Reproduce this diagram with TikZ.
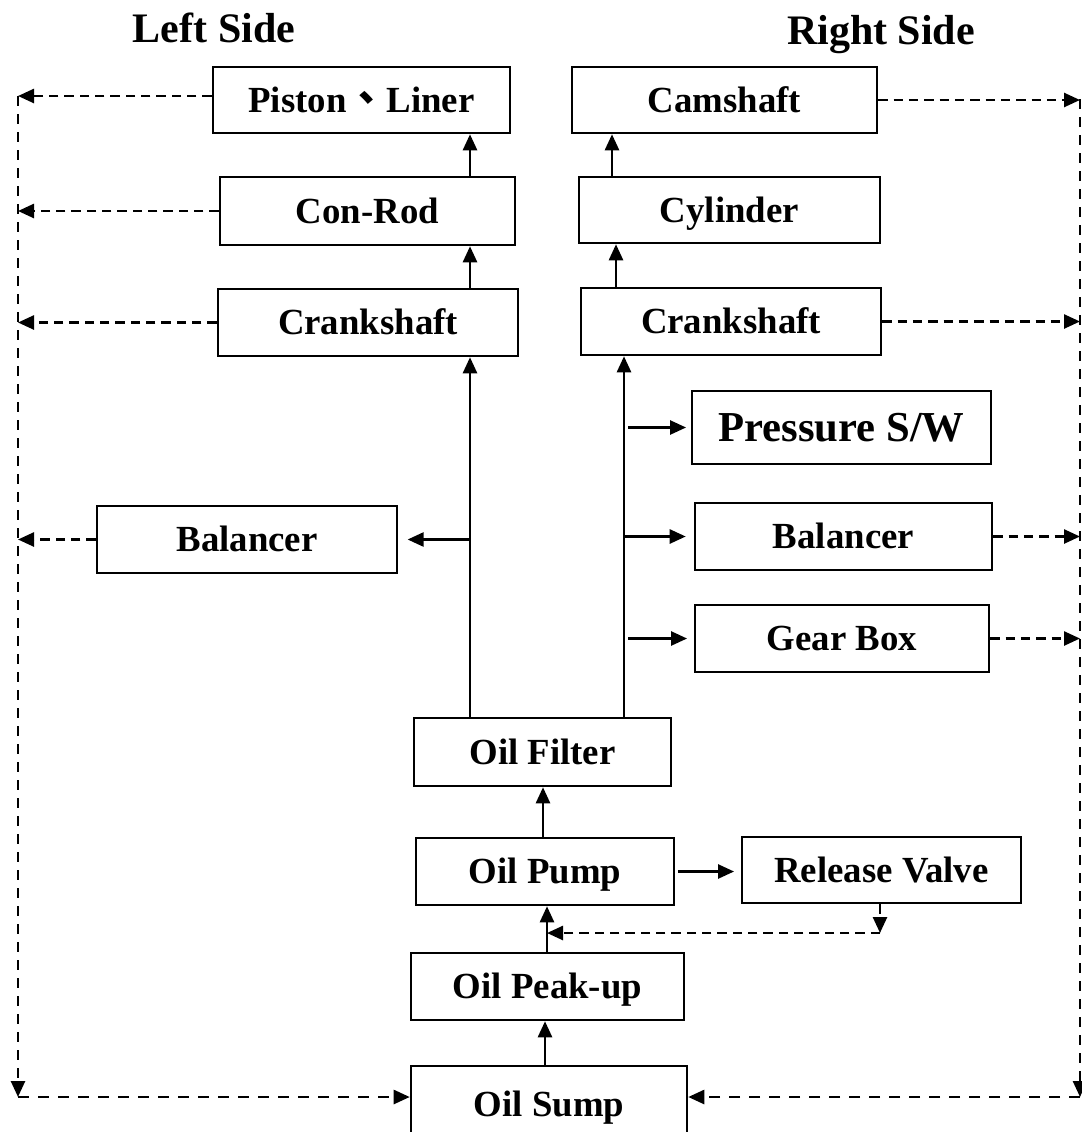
\documentclass[tikz,border=0pt]{standalone}
\usepackage{fontspec}
\setmainfont{Liberation Serif}
\newfontfamily\cjk{Noto Sans CJK TC}
\usetikzlibrary{arrows.meta}
\begin{document}
\begin{tikzpicture}[x=0.75pt,y=-0.75pt,
  box/.style={draw, line width=1.9pt, fill=white, inner sep=0pt,
    font=\bfseries\fontsize{27.6pt}{30pt}\selectfont,
    text height=18.3pt, text depth=0pt},
  bx/.style 2 args={minimum width={#1*0.75pt}, minimum height={#2*0.75pt}},
  ttl/.style={inner sep=0pt, font=\bfseries\fontsize{31.5pt}{34pt}\selectfont,
    text height=20.9pt, text depth=0pt},
  tipa/.style={-{Triangle[length=12pt,width=10.5pt]}},
  arr/.style={line width=1.9pt, tipa},
  darr/.style={line width=1.9pt, dash pattern=on 7pt off 4.5pt, tipa},
  dvert/.style={line width=1.9pt, dash pattern=on 7.5pt off 6pt, tipa},
  dbot/.style={line width=1.9pt, dash pattern=on 8pt off 7pt, tipa},
]
\useasboundingbox (0,0) rectangle (1082,1132);
\clip (0,0) rectangle (1082,1132);

% titles
\node[ttl] (lt) at (214,28.5) {Left Side};
\node[ttl] (rt) at (881,30.5) {Right Side};

% boxes
\node[box, bx={297}{66}] (pist) at (361.5,100) {Piston{\cjk\fontsize{30pt}{30pt}\selectfont 、}Liner};
\node[box, bx={295}{68}] (conrod) at (367.5,211) {Con-Rod};
\node[box, bx={300}{67}] (crankL) at (368,322.5) {Crankshaft};
\node[box, bx={305}{66}] (cam) at (724.5,100) {Camshaft};
\node[box, bx={301}{66}] (cyl) at (729.5,210) {Cylinder};
\node[box, bx={300}{67}] (crankR) at (731,321.5) {Crankshaft};
\node[box, bx={299}{73}, font=\bfseries\fontsize{32pt}{34pt}\selectfont, text height=21.2pt] (press) at (841.5,427.5) {Pressure S/W};
\node[box, bx={297}{67}] (balR) at (843.5,536.5) {Balancer};
\node[box, bx={294}{67}] (gear) at (842,638.5) {Gear Box};
\node[box, bx={300}{67}] (balL) at (247,539.5) {Balancer};
\node[box, bx={257}{68}] (filter) at (542.5,752) {Oil Filter};
\node[box, bx={258}{67}] (pump) at (545,871.5) {Oil Pump};
\node[box, bx={279}{66}] (rv) at (881.5,870) {Release Valve};
\node[box, bx={273}{67}] (peak) at (547.5,986.5) {Oil Peak-up};
\node[box, bx={276}{76}] (sump) at (549,1104) {Oil Sump};

% helper coordinates
\coordinate (lx) at (470,0);
\coordinate (rx) at (624,0);
\coordinate (rx2) at (616,0);
\coordinate (rx3) at (612,0);
\coordinate (rxb) at (628,0);
\coordinate (cx1) at (543,0);
\coordinate (cx2) at (547,0);
\coordinate (cx3) at (545,0);
\coordinate (rvx) at (880,0);
\coordinate (rvc) at (880,933);
\coordinate (L0) at (18,96);
\coordinate (L1) at (18,1097);
\coordinate (R0) at (1080,99);
\coordinate (R1) at (1080,1097);

% solid flow
\draw[arr] (lx |- filter.north) -- (lx |- crankL.south);
\draw[arr] (lx |- crankL.north) -- (lx |- conrod.south);
\draw[arr] (lx |- conrod.north) -- (lx |- pist.south);
\draw[arr] (rx |- filter.north) -- (rx |- crankR.south);
\draw[arr] (rx2 |- crankR.north) -- (rx2 |- cyl.south);
\draw[arr] (rx3 |- cyl.north) -- (rx3 |- cam.south);
\draw[arr, shorten >=3.5pt] (rxb |- press.west) -- (press.west);
\draw[arr, shorten >=6pt] (rx |- balR.west) -- (balR.west);
\draw[arr, shorten >=5pt] (rxb |- gear.west) -- (gear.west);
\draw[arr, shorten >=7pt] (lx |- balL.east) -- (balL.east);
\draw[arr] (cx1 |- pump.north) -- (cx1 |- filter.south);
\draw[arr] (cx2 |- peak.north) -- (cx2 |- pump.south);
\draw[arr] (cx3 |- sump.north) -- (cx3 |- peak.south);
\draw[arr, shorten <=2pt, shorten >=5pt] (pump.east) -- (pump.east -| rv.west);

% release valve return
\draw[darr] (rvx |- rv.south) -- (rvc);
\draw[darr] (rvc) -- (cx2 |- rvc);

% left return
\draw[darr] (pist.west |- L0) -- (L0);
\draw[darr] (conrod.west) -- (conrod.west -| L0);
\draw[darr] (crankL.west) -- (crankL.west -| L0);
\draw[darr] (balL.west) -- (balL.west -| L0);
\draw[dvert] (L0) -- (L1);
\draw[dbot] (L1) -- (sump.west |- L1);

% right return
\draw[darr] (cam.east) -- (cam.east -| R0);
\draw[darr] (crankR.east) -- (crankR.east -| R0);
\draw[darr] (balR.east) -- (balR.east -| R0);
\draw[darr] (gear.east) -- (gear.east -| R0);
\draw[dvert] (R0) -- (R1);
\draw[dbot] (R1) -- (sump.east |- R1);
\end{tikzpicture}
\end{document}
